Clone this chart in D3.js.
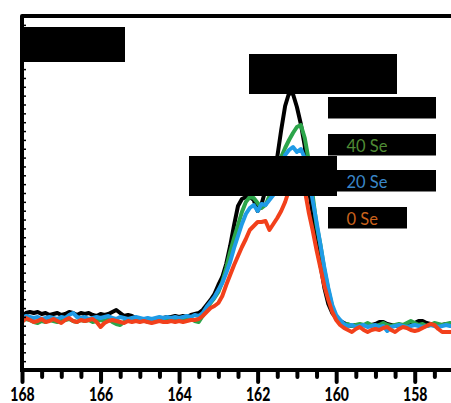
<!DOCTYPE html>
<html>
<head>
<meta charset="utf-8">
<script src="https://cdn.jsdelivr.net/npm/d3@7"></script>
<style>
  html, body { margin: 0; padding: 0; background: #fff; }
  svg { display: block; }
</style>
</head>
<body>
<svg id="chart" width="451" height="403"></svg>
<script>
// S 2p region, binding energy (eV), sampled every 0.1 eV from 168 down to 157
const bindingEnergy = d3.range(0, 111).map(i => +(168 - i * 0.1).toFixed(1));

// Intensities (a.u.) for each sample
const seriesBlack = [
  54,57,58,57,58,56,57,55,56,57,
  55,56,58,57,55,57,56,57,55,54,
  56,55,56,58,60,57,54,55,54,52,
  51,50,50,51,50,51,52,53,53,54,
  53,54,53,55,56,57,60,65,70,76,
  85,93,106,124,145,164,171,173,173,170,
  159,166,180,190,200,213,240,264,277,276,
  263,246,224,182,156,130,105,82,66,57,
  52,49,47,45,44,45,44,45,44,45,
  46,48,48,46,45,44,45,44,45,46,
  47,49,49,47,46,46,45,45,46,45,45
];
const series40Se = [
  49,51,50,48,47,49,48,50,49,48,
  49,50,51,49,48,50,49,50,48,49,
  50,49,51,48,46,45,48,50,49,50,
  49,50,48,49,50,49,50,51,50,51,
  50,51,50,51,49,48,54,61,67,72,
  78,88,102,118,132,145,158,168,173,172,
  167,162,165,174,185,200,213,222,230,237,
  243,245,232,210,175,145,125,100,80,63,
  52,47,45,46,44,45,46,45,47,45,
  44,45,47,45,44,45,46,45,47,49,
  47,45,46,44,45,47,46,45,46,47,46
];
const series20Se = [
  52,54,53,52,53,51,52,53,52,51,
  53,52,55,57,53,52,53,51,52,53,
  52,53,54,52,51,53,52,51,52,53,
  52,51,52,51,52,53,52,53,52,53,
  52,53,54,53,55,54,57,63,68,73,
  80,87,97,108,122,134,146,156,162,165,
  159,166,165,170,175,185,200,215,220,223,
  218,221,212,192,170,148,125,102,82,65,
  55,50,46,44,45,43,44,45,43,44,
  45,43,44,39,43,44,45,44,43,44,
  45,44,43,44,45,44,43,44,45,44,44
];
const series0Se = [
  48,52,50,48,49,51,48,49,51,49,
  47,50,52,49,48,50,49,50,51,48,
  43,47,49,50,49,48,47,49,48,49,
  48,49,48,47,48,49,48,48,49,48,
  49,48,49,50,50,51,54,58,62,64,
  67,74,85,95,105,114,123,131,140,144,
  148,148,149,140,146,152,159,168,180,190,
  197,198,180,158,140,120,102,84,70,58,
  50,45,42,40,38,41,43,40,38,40,
  41,40,42,43,40,38,41,43,42,40,
  39,40,42,44,46,45,41,38,38,38,38
];

const seriesNames = ["", "40 Se", "20 Se", "0 Se"];
const lineColors = ["#000000", "#2ca54a", "#1f9be6", "#f2401b"];
const textColors = ["#000000", "#4f8b35", "#3a87c9", "#c9621c"];

const xTickValues = d3.range(0, 23).map(i => 168 - i * 0.5);
const xLabelValues = [168, 166, 164, 162, 160, 158];

const svg = d3.select("#chart");
const plotLeft = 22, plotRight = 451, plotTop = 16, plotBottom = 370;

const x = d3.scaleLinear().domain([168, 157]).range([plotLeft, 454]);
const y = d3.scaleLinear().domain([0, 354]).range([plotBottom, plotTop]);

svg.append("defs").append("clipPath").attr("id", "plot")
  .append("rect").attr("x", plotLeft).attr("y", plotTop)
  .attr("width", plotRight - plotLeft).attr("height", plotBottom - plotTop);

// Spectra
const line = d3.line()
  .x((d, i) => x(bindingEnergy[i]))
  .y(d => y(d))
  .curve(d3.curveLinear);

const allSeries = [seriesBlack, series40Se, series20Se, series0Se];
svg.append("g").attr("clip-path", "url(#plot)")
  .selectAll("path")
  .data(allSeries)
  .join("path")
  .attr("d", d => line(d))
  .attr("fill", "none")
  .attr("stroke", (d, i) => lineColors[i])
  .attr("stroke-width", 4)
  .attr("stroke-linejoin", "round")
  .attr("stroke-linecap", "round");

// Frame: left axis and top border
svg.append("path")
  .attr("d", `M${plotLeft},${plotBottom} V${plotTop} H${plotRight + 2}`)
  .attr("fill", "none")
  .attr("stroke", "#000")
  .attr("stroke-width", 4)
  .attr("stroke-linejoin", "round");

// Small inward ticks on the intensity axis
const yAxis = d3.axisRight(y)
  .tickValues(d3.range(8.85, 354, 8.85))
  .tickSize(3)
  .tickSizeOuter(0)
  .tickFormat("");
const gy = svg.append("g").attr("transform", `translate(${plotLeft + 1},0)`).call(yAxis);
gy.select(".domain").remove();
gy.selectAll(".tick line").attr("stroke", "#000").attr("stroke-width", 1.5);

// Binding energy axis
const xAxis = d3.axisBottom(x)
  .tickValues(xTickValues)
  .tickSizeOuter(0)
  .tickSize(0)
  .tickPadding(0)
  .tickFormat(d => xLabelValues.includes(d) ? d3.format("d")(d) : "");
const gx = svg.append("g").attr("transform", `translate(0,${plotBottom})`).call(xAxis);
gx.select(".domain")
  .attr("d", `M${plotLeft - 2},0 H${plotRight + 2}`)
  .attr("stroke", "#000")
  .attr("stroke-width", 4);
gx.selectAll(".tick line")
  .attr("y1", 0)
  .attr("y2", d => xLabelValues.includes(d) ? 12 : 7)
  .attr("stroke", "#000")
  .attr("stroke-width", 4)
  .attr("stroke-linecap", "round");
gx.selectAll(".tick text")
  .attr("y", 0)
  .attr("dy", 0)
  .attr("transform", "translate(0,31) scale(1,1.3)")
  .attr("fill", "#000")
  .style("font-family", "Lato, 'Open Sans', sans-serif")
  .style("font-weight", 900)
  .style("font-size", "14px")
  .attr("text-anchor", "middle");

// Label boxes
const boxes = [
  { x0: 24, y0: 27, x1: 125, y1: 62 },
  { x0: 249, y0: 54, x1: 397, y1: 94 },
  { x0: 189, y0: 156, x1: 337, y1: 196 }
];
svg.append("g").selectAll("rect").data(boxes).join("rect")
  .attr("x", d => d.x0).attr("y", d => d.y0)
  .attr("width", d => d.x1 - d.x0).attr("height", d => d.y1 - d.y0)
  .attr("fill", "#000");

// Legend
const legendTops = [97, 134, 170, 207];
const legendWidths = [108, 108, 108, 79];
const legend = svg.append("g").selectAll("g").data(seriesNames).join("g")
  .attr("transform", (d, i) => `translate(328,${legendTops[i]})`);
legend.append("rect")
  .attr("width", (d, i) => legendWidths[i])
  .attr("height", 21.5)
  .attr("fill", "#000");
legend.append("text")
  .attr("x", 18.5)
  .attr("y", 17.7)
  .attr("fill", (d, i) => textColors[i])
  .style("font-family", "Lato, 'Open Sans', sans-serif")
  .style("font-size", "16.5px")
  .text(d => d);
</script>
</body>
</html>
